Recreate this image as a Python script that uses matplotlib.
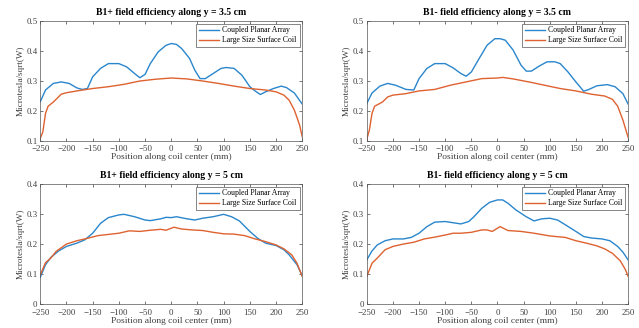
import matplotlib as mpl
mpl.use('Agg')
import matplotlib.pyplot as plt

plt.rcParams['font.family'] = ['Liberation Serif', 'DejaVu Serif']

# B1+ along y = 3.5 cm
x_p35_arr = [-250, -240, -225, -210, -195, -180, -170, -160, -150, -135, -120, -100, -85, -70, -60, -50,
             -40, -25, -10, 0, 10, 20, 35, 45, 55, 65, 80, 95, 105, 120, 135, 150, 160, 170, 180,
             195, 210, 220, 235, 250]
p35_arr = [0.231, 0.27, 0.292, 0.297, 0.292, 0.277, 0.272, 0.275, 0.314, 0.342, 0.358, 0.358, 0.347,
           0.325, 0.311, 0.322, 0.358, 0.397, 0.419, 0.425, 0.422, 0.408, 0.375, 0.336, 0.308, 0.308,
           0.325, 0.342, 0.345, 0.342, 0.319, 0.281, 0.267, 0.255, 0.264, 0.275, 0.283, 0.278, 0.26,
           0.223]
x_p35_coil = [-250, -245, -240, -235, -225, -210, -200, -180, -150, -120, -90, -60, -30, 0, 30, 60,
              90, 120, 150, 180, 200, 215, 225, 235, 245, 250]
p35_coil = [0.109, 0.131, 0.192, 0.216, 0.23, 0.256, 0.261, 0.267, 0.275, 0.281, 0.289, 0.3, 0.306,
            0.31, 0.307, 0.3, 0.292, 0.283, 0.275, 0.27, 0.264, 0.253, 0.236, 0.203, 0.153, 0.114]

# B1- along y = 3.5 cm
x_m35_arr = [-250, -240, -225, -210, -195, -175, -160, -150, -135, -120, -100, -85, -70, -60, -50,
             -35, -20, -5, 5, 15, 30, 45, 55, 65, 80, 95, 110, 120, 135, 150, 165, 175, 190, 210,
             225, 240, 250]
m35_arr = [0.225, 0.26, 0.283, 0.292, 0.286, 0.272, 0.27, 0.308, 0.342, 0.358, 0.358, 0.344, 0.325,
           0.316, 0.33, 0.375, 0.419, 0.441, 0.441, 0.436, 0.403, 0.353, 0.333, 0.333, 0.35, 0.364,
           0.364, 0.358, 0.33, 0.297, 0.266, 0.272, 0.284, 0.288, 0.281, 0.258, 0.223]
x_m35_coil = [-250, -245, -240, -235, -220, -210, -200, -175, -150, -120, -90, -60, -30, 0, 10, 30,
              60, 90, 120, 150, 180, 205, 220, 230, 240, 250]
m35_coil = [0.106, 0.137, 0.192, 0.216, 0.23, 0.247, 0.253, 0.258, 0.267, 0.272, 0.286, 0.297, 0.308,
            0.31, 0.312, 0.307, 0.297, 0.286, 0.275, 0.267, 0.256, 0.25, 0.239, 0.216, 0.17, 0.112]

# B1+ along y = 5 cm
x_p5_arr = [-250, -240, -230, -215, -200, -180, -165, -150, -135, -120, -100, -90, -70, -50, -40, -20,
            -10, 0, 10, 30, 45, 60, 80, 100, 115, 130, 150, 165, 180, 200, 215, 225, 240, 250]
p5_arr = [0.089, 0.131, 0.155, 0.177, 0.192, 0.203, 0.214, 0.236, 0.269, 0.288, 0.297, 0.299, 0.291,
          0.28, 0.278, 0.284, 0.289, 0.288, 0.291, 0.284, 0.28, 0.286, 0.291, 0.299, 0.291, 0.277,
          0.242, 0.219, 0.203, 0.195, 0.181, 0.164, 0.131, 0.094]
x_p5_coil = [-250, -240, -230, -220, -200, -180, -160, -140, -120, -100, -80, -60, -40, -20, -10, 5,
             20, 40, 60, 80, 100, 120, 140, 160, 180, 200, 215, 230, 240, 250]
p5_coil = [0.097, 0.138, 0.153, 0.175, 0.2, 0.211, 0.219, 0.228, 0.232, 0.236, 0.244, 0.242, 0.246,
           0.249, 0.246, 0.256, 0.25, 0.247, 0.245, 0.239, 0.234, 0.233, 0.228, 0.217, 0.208, 0.197,
           0.184, 0.164, 0.136, 0.092]

# B1- along y = 5 cm
x_m5_arr = [-250, -240, -230, -215, -200, -180, -165, -150, -135, -120, -100, -85, -70, -55, -45, -30,
            -15, 0, 10, 20, 35, 55, 70, 85, 100, 115, 130, 150, 165, 180, 200, 215, 230, 240, 250]
m5_arr = [0.147, 0.177, 0.197, 0.211, 0.217, 0.217, 0.222, 0.236, 0.258, 0.273, 0.275, 0.271, 0.267,
          0.275, 0.291, 0.319, 0.339, 0.347, 0.347, 0.336, 0.314, 0.291, 0.277, 0.284, 0.286, 0.28,
          0.264, 0.242, 0.225, 0.22, 0.217, 0.211, 0.192, 0.173, 0.147]
x_m5_coil = [-250, -240, -230, -215, -200, -180, -160, -140, -120, -100, -85, -70, -50, -30, -20, -10,
             5, 20, 45, 70, 100, 130, 150, 170, 190, 205, 220, 235, 245, 250]
m5_coil = [0.092, 0.136, 0.153, 0.181, 0.192, 0.2, 0.206, 0.217, 0.223, 0.23, 0.236, 0.236, 0.239,
           0.247, 0.247, 0.242, 0.258, 0.245, 0.242, 0.236, 0.227, 0.222, 0.211, 0.203, 0.194, 0.184,
           0.169, 0.144, 0.114, 0.092]

titles = ['B1+ field efficiency along y = 3.5 cm', 'B1- field efficiency along y = 3.5 cm',
          'B1+ field efficiency along y = 5 cm', 'B1- field efficiency along y = 5 cm']

BLUE = '#2A86CC'
ORANGE = '#DE6230'
GREY = '#404040'

fig = plt.figure(figsize=(6.39, 3.28), dpi=100)
boxes = [[0.063, 0.570, 0.410, 0.366], [0.574, 0.570, 0.409, 0.366],
         [0.063, 0.073, 0.410, 0.366], [0.574, 0.073, 0.409, 0.366]]
panels = [(x_p35_arr, p35_arr, x_p35_coil, p35_coil, (0.1, 0.5)),
          (x_m35_arr, m35_arr, x_m35_coil, m35_coil, (0.1, 0.5)),
          (x_p5_arr, p5_arr, x_p5_coil, p5_coil, (0, 0.4)),
          (x_m5_arr, m5_arr, x_m5_coil, m5_coil, (0, 0.4))]

for box, (xa, ya, xc, yc, ylim), title in zip(boxes, panels, titles):
    ax = fig.add_axes(box)
    ax.plot(xa, ya, color=BLUE, lw=1.0, label='Coupled Planar Array')
    ax.plot(xc, yc, color=ORANGE, lw=1.0, label='Large Size Surface Coil')
    ax.set_xlim(-250, 250)
    ax.set_ylim(*ylim)
    ax.set_xticks(range(-250, 251, 50))
    yt = [round(ylim[0] + 0.1 * i, 1) for i in range(5)]
    ax.set_yticks(yt)
    ax.set_yticklabels(['0' if v == 0 else f'{v:g}' for v in yt])
    ax.tick_params(direction='in', top=True, right=True, labelsize=6.4, colors=GREY,
                   length=2.5, width=0.5)
    ax.tick_params(axis='x', pad=3.2)
    ax.tick_params(axis='y', pad=2)
    for s in ax.spines.values():
        s.set_color('#555555')
        s.set_linewidth(0.5)
    ax.set_title(title, fontsize=7, fontweight='bold', pad=4)
    ax.set_xlabel('Position along coil center (mm)', fontsize=6.8, color=GREY, labelpad=0)
    ax.set_ylabel('Microtesla/sqrt(W)', fontsize=6.6, color=GREY, labelpad=1.2)
    leg = ax.legend(loc='upper right', fontsize=5.6, handlelength=2.6, borderpad=0.35,
                    labelspacing=0.25, handletextpad=0.4, fancybox=False, framealpha=1,
                    borderaxespad=0.35)
    leg.get_frame().set_linewidth(0.5)
    leg.get_frame().set_edgecolor('#555555')

fig.savefig('out.png', dpi=100)
